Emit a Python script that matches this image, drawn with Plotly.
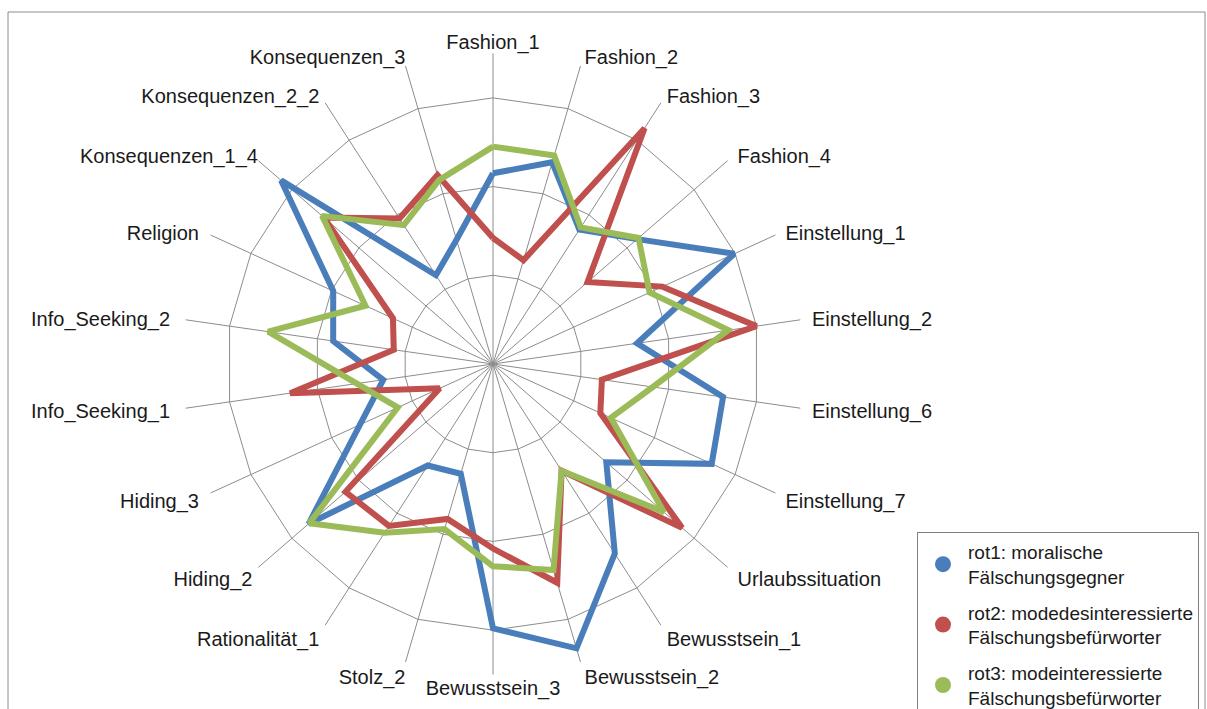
import plotly.graph_objects as go

# Category axes of the radar chart (clockwise from the top)
categories = [
    "Fashion_1", "Fashion_2", "Fashion_3", "Fashion_4",
    "Einstellung_1", "Einstellung_2", "Einstellung_6", "Einstellung_7",
    "Urlaubssituation", "Bewusstsein_1", "Bewusstsein_2", "Bewusstsein_3",
    "Stolz_2", "Rationalität_1", "Hiding_2", "Hiding_3",
    "Info_Seeking_1", "Info_Seeking_2", "Religion",
    "Konsequenzen_1_4", "Konsequenzen_2_2", "Konsequenzen_3",
]

# Cluster profiles
rot1 = [2.15, 2.37, 1.80, 2.15, 2.99, 1.64, 2.62, 2.71, 1.69, 2.54, 3.34,
        2.98, 1.29, 1.36, 2.75, 1.65, 1.25, 1.82, 1.98, 3.16, 1.19, 1.46]
rot2 = [1.42, 1.22, 3.16, 1.41, 2.10, 3.00, 1.24, 1.33, 2.82, 1.43, 2.57,
        2.08, 1.82, 2.17, 2.20, 0.66, 2.31, 1.13, 1.24, 2.52, 1.95, 2.22]
rot3 = [2.45, 2.45, 1.83, 2.17, 1.94, 2.68, 1.82, 1.46, 2.55, 1.43, 2.42,
        2.28, 1.94, 2.26, 2.74, 1.18, 1.55, 2.56, 1.58, 2.55, 1.86, 2.16]

series_names = [
    "rot1: moralische<br>Fälschungsgegner",
    "rot2: modedesinteressierte<br>Fälschungsbefürworter",
    "rot3: modeinteressierte<br>Fälschungsbefürworter",
]
series_values = [rot1, rot2, rot3]
series_colors = ["#4A7EBB", "#C0504D", "#9BBB59"]

# Extra horizontal gap between each label and its spoke:
# counts of non-breaking spaces and of thin spaces
gap_nbsp = [0, 0, 1, 1, 1, 2, 2, 1, 1, 1, 0,
            0, 0, 1, 1, 2, 2, 2, 2, 0, 1, 0]
gap_thin = [0, 1, 0, 1, 1, 0, 0, 1, 1, 0, 1,
            0, 0, 0, 0, 0, 1, 1, 0, 0, 0, 0]

W, H = 1207, 709
cx, cy, R = 493, 364, 310.5  # polar centre and outer radius in px

NBSP, THIN = "\u00a0", "\u2009"
tick_text = []
for i, cat in enumerate(categories):
    pad = NBSP * gap_nbsp[i] + THIN * gap_thin[i]
    if 0 < i < 11:          # right half: text starts at the spoke
        tick_text.append(pad + cat)
    elif i > 11:            # left half: text ends at the spoke
        tick_text.append(cat + pad)
    else:
        tick_text.append(cat)

fig = go.Figure()

for name, vals, col in zip(series_names, series_values, series_colors):
    fig.add_trace(go.Scatterpolar(
        r=vals + vals[:1],
        theta=categories + categories[:1],
        mode="lines",
        line=dict(color=col, width=6),
        showlegend=False,
        hoverinfo="skip",
    ))

# Legend entries with round symbols
for i, (name, col) in enumerate(zip(series_names, series_colors)):
    fig.add_trace(go.Scatterpolar(
        r=[None], theta=[None],
        mode="markers",
        marker=dict(color=col, size=16, symbol="circle"),
        name=name,
        legendgroup=f"g{i}",
        showlegend=True,
    ))

fig.update_layout(
    width=W, height=H,
    margin=dict(l=0, r=0, t=0, b=0, autoexpand=False),
    paper_bgcolor="white",
    plot_bgcolor="white",
    font=dict(family="Arial, Liberation Sans, sans-serif", color="#1a1a1a"),
    polar=dict(
        domain=dict(x=[(cx - R) / W, (cx + R) / W],
                    y=[(H - cy - R) / H, (H - cy + R) / H]),
        bgcolor="white",
        gridshape="linear",
        radialaxis=dict(
            range=[0, 3.5],
            tickvals=[1, 2, 3],
            showticklabels=False,
            ticks="",
            showline=False,
            gridcolor="#8c8c8c",
            gridwidth=1,
        ),
        angularaxis=dict(
            direction="clockwise",
            rotation=90,
            showline=False,
            tickmode="array",
            tickvals=categories,
            ticktext=tick_text,
            ticks="",
            gridcolor="#8c8c8c",
            gridwidth=1,
            tickfont=dict(size=20, color="#1a1a1a",
                          family="Arial, Liberation Sans, sans-serif"),
        ),
    ),
    legend=dict(
        x=917 / W, y=1 - 532 / H,
        xanchor="left", yanchor="top",
        bgcolor="white",
        bordercolor="#7f7f7f",
        borderwidth=1,
        font=dict(size=19, color="#1a1a1a"),
        tracegroupgap=8,
        itemwidth=40,
        itemclick=False,
    ),
    shapes=[dict(
        type="rect", xref="paper", yref="paper",
        x0=8 / W, x1=1205 / W, y0=-0.02, y1=1 - 12 / H,
        line=dict(color="#8c8c8c", width=1),
        fillcolor="rgba(0,0,0,0)",
        layer="below",
    )],
)

fig.write_html("out.html")
